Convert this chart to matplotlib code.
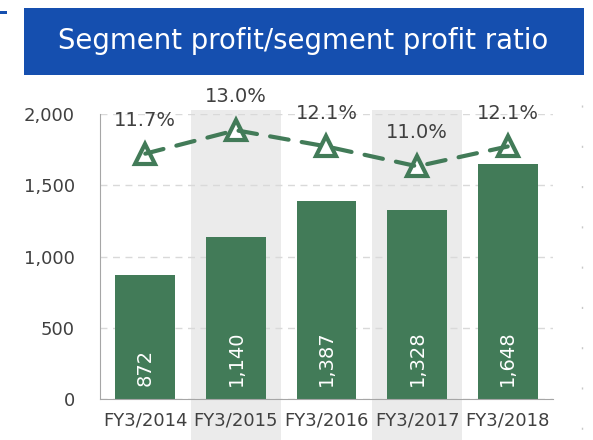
import numpy as np
import matplotlib
matplotlib.use("Agg")
import matplotlib.pyplot as plt
from matplotlib.patches import Rectangle
from matplotlib.lines import Line2D
from matplotlib.transforms import blended_transform_factory

# data
years = ["FY3/2014", "FY3/2015", "FY3/2016", "FY3/2017", "FY3/2018"]
profit = [872, 1140, 1387, 1328, 1648]
ratio = [11.7, 13.0, 12.1, 11.0, 12.1]
shaded = [1, 3]

GREEN = "#427B58"
BLUE = "#154FAF"
TEXT = "#404040"

W, H = 593, 440
fig = plt.figure(figsize=(W / 100, H / 100), dpi=100)


def px(x0, y0, x1, y1):
    # pixel box (top-left origin) -> figure fraction rect
    return [x0 / W, 1 - y1 / H, (x1 - x0) / W, (y1 - y0) / H]


ax = fig.add_axes(px(100, 114, 553, 399))
x = np.arange(len(years))

# grey bands behind alternate years, reaching past the axes
trans = blended_transform_factory(ax.transData, ax.transAxes)
for i in shaded:
    ax.add_patch(Rectangle((i - 0.5, -0.15), 1.0, 1.165, transform=trans,
                           facecolor="#EBEBEB", edgecolor="none",
                           clip_on=False, zorder=0))

ax.bar(x, profit, width=0.66, color=GREEN, zorder=2)
for xi, v in zip(x, profit):
    ax.annotate(f"{v:,}", (xi, 0), xytext=(0, 9.5), textcoords="offset points",
                rotation=90, ha="center", va="bottom", color="white",
                fontsize=14, zorder=3)

ax.set_xlim(-0.5, len(years) - 0.5)
ax.set_ylim(0, 2000)
ax.set_yticks([0, 500, 1000, 1500, 2000])
ax.set_yticklabels([f"{t:,}" for t in [0, 500, 1000, 1500, 2000]])
ax.set_xticks(x)
ax.set_xticklabels(years)
ax.tick_params(axis="both", length=0, labelsize=13, colors=TEXT)
ax.tick_params(axis="y", pad=18)
ax.tick_params(axis="x", pad=9)
ax.yaxis.grid(True, color="#D9D9D9", linestyle=(0, (5, 4)), linewidth=1.0)
ax.set_axisbelow(True)
for s in ["top", "right"]:
    ax.spines[s].set_visible(False)
ax.spines["left"].set_color("#A6A6A6")
ax.spines["bottom"].set_color("#A6A6A6")
ax.patch.set_alpha(0)

# ratio line on a hidden second axis
ax2 = ax.twinx()
ax2.set_ylim(-1.9, 13.9)
ax2.axis("off")
ax2.plot(x, ratio, linestyle="none", marker="^", markersize=14,
         markerfacecolor="white", markeredgecolor=GREEN, markeredgewidth=3,
         zorder=3)
ax2.plot(x, ratio, color=GREEN, linewidth=3, dashes=(4.5, 3.2),
         dash_capstyle="round", zorder=4)
for xi, r in zip(x, ratio):
    ax2.annotate(f"{r:.1f}%", (xi, r), xytext=(0, 24), textcoords="offset points",
                 ha="center", va="center", color=TEXT, fontsize=14)

# title banner
fig.patches.append(Rectangle((24 / W, 1 - 75 / H), 560 / W, 67 / H,
                             transform=fig.transFigure, facecolor=BLUE,
                             edgecolor="none"))
fig.patches.append(Rectangle((0, 1 - 14 / H), 7 / W, 3 / H,
                             transform=fig.transFigure, facecolor=BLUE,
                             edgecolor="none"))
fig.text(303 / W, 1 - 41 / H, "Segment profit/segment profit ratio",
         color="white", fontsize=19.8, ha="center", va="center")

# faint dotted divider on the right
fig.lines.append(Line2D([582 / W, 582 / W], [1 - 105 / H, 1 - 432 / H],
                        transform=fig.transFigure, color="#C8C8C8",
                        linewidth=1, dashes=(1.5, 27.5)))

fig.savefig("out.png", dpi=100)
